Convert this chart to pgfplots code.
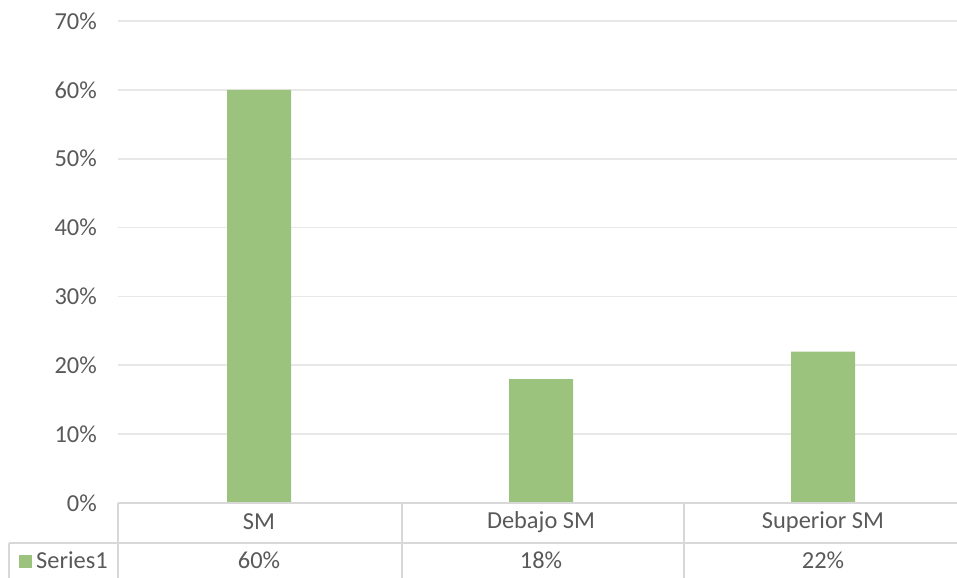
\documentclass[border=0pt]{standalone}
\usepackage{pgfplots}
\pgfplotsset{compat=1.18}
\usepackage{pgfplotstable}
\usepackage{fontspec}
\setmainfont{Carlito}

\definecolor{barfill}{RGB}{155,195,126}
\definecolor{txt}{RGB}{89,89,89}
\definecolor{gridc}{RGB}{232,232,232}
\definecolor{rulec}{RGB}{216,216,216}

% shares of each group (percent); base = row where the data table prints the values
\pgfplotstableread{
x v base
0 60 0
1 18 0
2 22 0
}\shares

\newcommand{\lbl}{\fontsize{24.5}{28}\selectfont\color{txt}}

\begin{document}
\begin{tikzpicture}[x=1bp,y=1bp]
\useasboundingbox (0,0) rectangle (957,578);
\clip (0,0) rectangle (957,578);
\begin{axis}[
  at={(118bp,75bp)}, anchor=south west,
  scale only axis, width=846bp, height=482bp,
  xmin=-0.5, xmax=2.5, ymin=0, ymax=70,
  clip=false,
  axis line style={draw=none},
  major tick length=0,
  ytick={0,10,...,70},
  yticklabel={\pgfmathprintnumber{\tick}\%},
  /pgf/number format/assume math mode=true,
  xtick={0,1,2},
  xticklabels={SM, Debajo SM, Superior SM},
  ymajorgrids,
  grid style={draw=gridc, line width=1.6bp},
  tick label style={font=\lbl},
  yticklabel style={anchor=east, inner sep=0pt, xshift=-21bp},
  xticklabel style={anchor=center, inner sep=0pt, yshift=-19bp},
]
\addplot[ybar, bar width=64bp, fill=barfill, draw=none]
  table[x=x, y=v] {\shares};
\addplot[draw=none, mark=none, point meta=explicit,
  nodes near coords={\pgfmathprintnumber{\pgfplotspointmeta}\%},
  every node near coord/.style={anchor=center, inner sep=0pt, yshift=-57bp, font=\lbl}]
  table[x=x, y=base, meta=v] {\shares};
\end{axis}

% data table grid
\begin{scope}[draw=rulec, line width=2bp]
  \draw (118,75) -- (957,75);
  \draw (9,35) -- (957,35);
  \draw (118,75) -- (118,0);
  \draw (402,75) -- (402,0);
  \draw (684,75) -- (684,0);
  \draw (9,35) -- (9,0);
\end{scope}
% legend key of the table row
\fill[barfill] (19,10) rectangle (32,23);
\node[anchor=west, inner sep=0pt, font=\lbl] at (36,18) {Series1};
\end{tikzpicture}
\end{document}
